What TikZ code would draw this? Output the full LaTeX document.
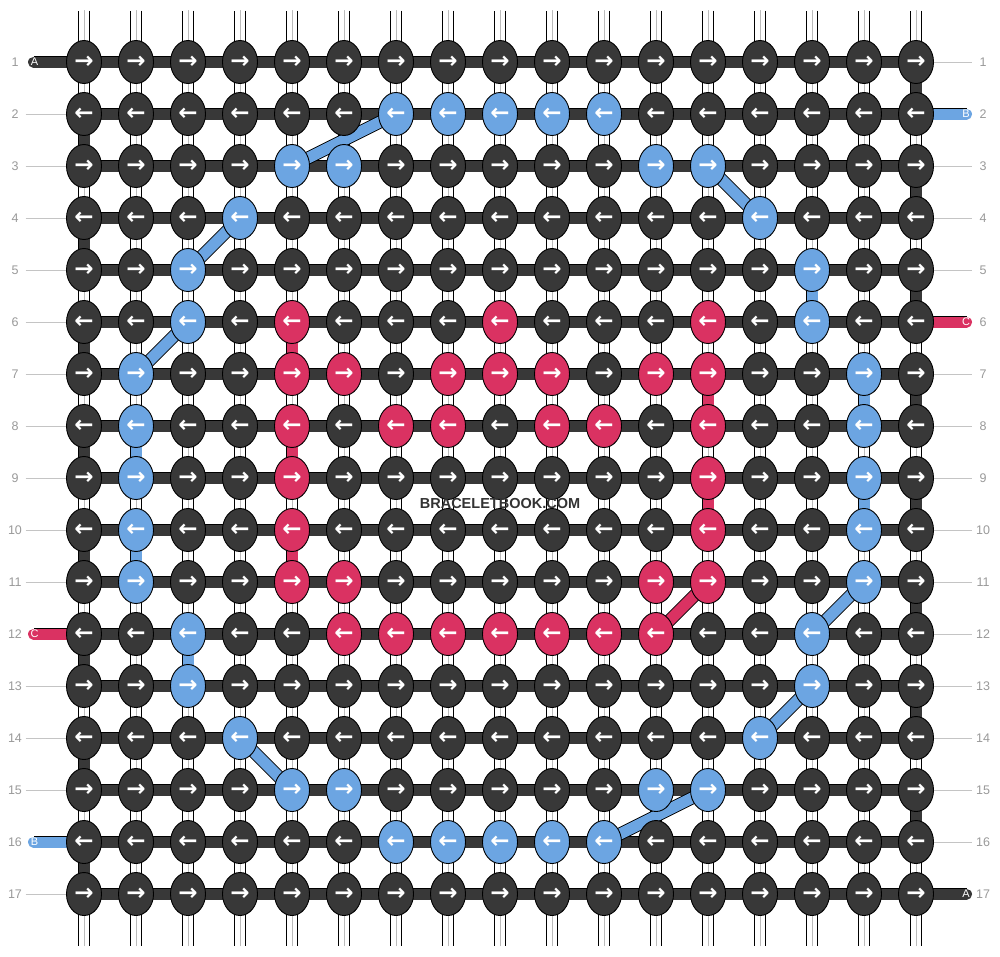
\documentclass[tikz,border=0pt]{standalone}
\usepackage{fontspec}
\setmainfont{Liberation Sans}
\newfontfamily\arrowfont{DejaVu Sans}
\usetikzlibrary{shapes.geometric}

\pgfdeclarelayer{bg}
\pgfsetlayers{bg,main}

\definecolor{knotdark}{HTML}{383838}
\definecolor{knotblue}{HTML}{6CA5E2}
\definecolor{knotpink}{HTML}{DA3262}
\definecolor{labgray}{HTML}{999999}
\definecolor{tickgray}{HTML}{C4C4C4}
\definecolor{warpgray}{HTML}{BBBBBB}
\definecolor{brandgray}{HTML}{333333}

\tikzset{
  knot/.style={ellipse, draw=black, line width=0.9pt, minimum width=35pt, minimum height=43pt,
    inner sep=0pt, text=white, font=\arrowfont\bfseries\fontsize{23}{23}\selectfont},
  dk/.style={fill=knotdark},
  bl/.style={fill=knotblue},
  pk/.style={fill=knotpink},
  strand/.style={line width=11pt, preaction={draw=black, line width=12.8pt}},
  dkline/.style={strand, draw=knotdark},
  blline/.style={strand, draw=knotblue},
  pkline/.style={strand, draw=knotpink},
  warp/.style={draw=white, line width=10.2pt, preaction={draw=black, line width=12pt},
    postaction={draw=warpgray, line width=1pt}},
  endtext/.style={text=white, inner sep=0pt, font=\fontsize{11}{11}\selectfont},
  rowlab/.style={text=labgray, inner sep=0pt, minimum width=21pt, font=\fontsize{12.5}{12.5}\selectfont},
  tick/.style={draw=tickgray, line width=1pt},
}

% links between rows that are not plain warp
\foreach \r in {1,3,...,15} {\expandafter\xdef\csname lnk-\r-17\endcsname{dkline}}
\foreach \r in {2,4,...,16} {\expandafter\xdef\csname lnk-\r-1\endcsname{dkline}}
\foreach \r/\c/\s in {5/15/blline, 7/16/blline, 8/2/blline, 9/16/blline, 10/2/blline, 12/3/blline,
    6/5/pkline, 7/13/pkline, 8/5/pkline, 9/13/pkline, 10/5/pkline}
  {\expandafter\xdef\csname lnk-\r-\c\endcsname{\s}}

\begin{document}
\begin{tikzpicture}[x=1pt, y=-1pt]
\useasboundingbox (0,0) rectangle (1000,956);

% knots
\foreach \row [count=\r] in {
  {dk,dk,dk,dk,dk,dk,dk,dk,dk,dk,dk,dk,dk,dk,dk,dk,dk},
  {dk,dk,dk,dk,dk,dk,bl,bl,bl,bl,bl,dk,dk,dk,dk,dk,dk},
  {dk,dk,dk,dk,bl,bl,dk,dk,dk,dk,dk,bl,bl,dk,dk,dk,dk},
  {dk,dk,dk,bl,dk,dk,dk,dk,dk,dk,dk,dk,dk,bl,dk,dk,dk},
  {dk,dk,bl,dk,dk,dk,dk,dk,dk,dk,dk,dk,dk,dk,bl,dk,dk},
  {dk,dk,bl,dk,pk,dk,dk,dk,pk,dk,dk,dk,pk,dk,bl,dk,dk},
  {dk,bl,dk,dk,pk,pk,dk,pk,pk,pk,dk,pk,pk,dk,dk,bl,dk},
  {dk,bl,dk,dk,pk,dk,pk,pk,dk,pk,pk,dk,pk,dk,dk,bl,dk},
  {dk,bl,dk,dk,pk,dk,dk,dk,dk,dk,dk,dk,pk,dk,dk,bl,dk},
  {dk,bl,dk,dk,pk,dk,dk,dk,dk,dk,dk,dk,pk,dk,dk,bl,dk},
  {dk,bl,dk,dk,pk,pk,dk,dk,dk,dk,dk,pk,pk,dk,dk,bl,dk},
  {dk,dk,bl,dk,dk,pk,pk,pk,pk,pk,pk,pk,dk,dk,bl,dk,dk},
  {dk,dk,bl,dk,dk,dk,dk,dk,dk,dk,dk,dk,dk,dk,bl,dk,dk},
  {dk,dk,dk,bl,dk,dk,dk,dk,dk,dk,dk,dk,dk,bl,dk,dk,dk},
  {dk,dk,dk,dk,bl,bl,dk,dk,dk,dk,dk,bl,bl,dk,dk,dk,dk},
  {dk,dk,dk,dk,dk,dk,bl,bl,bl,bl,bl,dk,dk,dk,dk,dk,dk},
  {dk,dk,dk,dk,dk,dk,dk,dk,dk,dk,dk,dk,dk,dk,dk,dk,dk}}
  \foreach \k [count=\c] in \row
    \node[knot,\k] (k-\r-\c) at ({32+52*\c},{10+52*\r}) {\ifodd\r →\else ←\fi};

\begin{pgfonlayer}{bg}
  % warps above and below
  \foreach \c in {1,...,17} {
    \coordinate (t-\c) at ({32+52*\c},10.5);
    \coordinate (b-\c) at ({32+52*\c},945.5);
    \draw[warp, line cap=round] (t-\c) -- (k-1-\c.center);
    \draw[warp, line cap=round] (k-17-\c.center) -- (b-\c);
  }
  % links between rows
  \foreach \r in {1,...,16}
    \foreach \c in {1,...,17} {
      \pgfmathtruncatemacro\rn{\r+1}
      \ifcsname lnk-\r-\c\endcsname \edef\lnk{\csname lnk-\r-\c\endcsname}\else \def\lnk{warp}\fi
      \draw[\lnk] (k-\r-\c.center) -- (k-\rn-\c.center);
    }
  % row threads
  \foreach \r in {1,...,17}
    \foreach \c in {1,...,16} {
      \pgfmathtruncatemacro\cn{\c+1}
      \draw[dkline] (k-\r-\c.center) -- (k-\r-\cn.center);
    }
  % ends
  \coordinate (a-in) at (33.5,62);
  \coordinate (a-out) at (966.5,894);
  \coordinate (b-in) at (966.5,114);
  \coordinate (b-out) at (33.5,842);
  \coordinate (c-in) at (966.5,322);
  \coordinate (c-out) at (33.5,634);
  \draw[dkline, line cap=round] (a-in) -- (k-1-1.center);
  \draw[dkline, line cap=round] (k-17-17.center) -- (a-out);
  \draw[blline, line cap=round] (b-in) -- (k-2-17.center);
  \draw[blline, line cap=round] (k-16-1.center) -- (b-out);
  \draw[pkline, line cap=round] (c-in) -- (k-6-17.center);
  \draw[pkline, line cap=round] (k-12-1.center) -- (c-out);
  % crossings
  \foreach \a/\b in {2-7/3-5, 3-13/4-14, 4-4/5-3, 6-3/7-2, 11-16/12-15, 13-15/14-14, 14-4/15-5, 15-13/16-11}
    \draw[blline] (k-\a.center) -- (k-\b.center);
  \draw[pkline] (k-11-13.center) -- (k-12-12.center);
\end{pgfonlayer}

\node[endtext] (a-in-t) at (34.5,62) {A};
\node[endtext] (a-out-t) at (966,894) {A};
\node[endtext] (b-in-t) at (966,114) {B};
\node[endtext] (b-out-t) at (34.5,842) {B};
\node[endtext] (c-in-t) at (966,322) {C};
\node[endtext] (c-out-t) at (34.5,634) {C};

% row numbers
\foreach \r in {1,...,17} {
  \node[rowlab] (ll-\r) at (15,{10+52*\r}) {\r};
  \node[rowlab] (rl-\r) at (983,{10+52*\r}) {\r};
}
\foreach \r in {2,...,11,13,14,15,17} \draw[tick] (ll-\r.east) -- (k-\r-1);
\foreach \r in {1,3,4,5,7,8,...,16} \draw[tick] (k-\r-17) -- (rl-\r.west);

\node[text=brandgray, font=\bfseries\fontsize{14.5}{14.5}\selectfont] (brand) at (500,503.5) {BRACELETBOOK.COM};
\end{tikzpicture}
\end{document}
